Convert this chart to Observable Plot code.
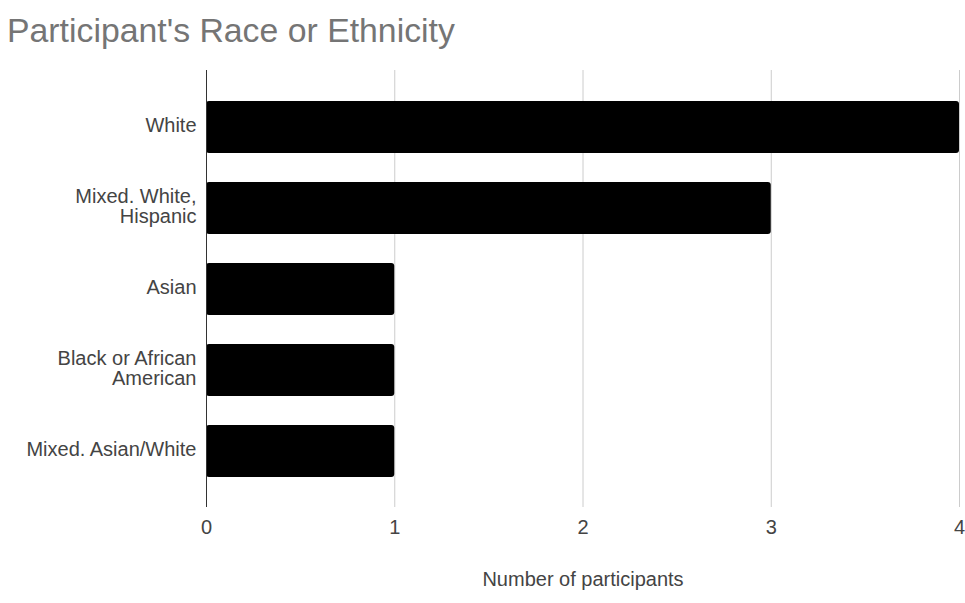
<!DOCTYPE html>
<html><head><meta charset="utf-8">
<script src="https://cdn.jsdelivr.net/npm/d3@7"></script>
<script src="https://cdn.jsdelivr.net/npm/@observablehq/plot@0.6"></script>
<style>
body{margin:0;background:#fff;font-family:"Liberation Sans",Arial,sans-serif;}
#title{height:60px;box-sizing:border-box;padding:14px 0 0 7px;font-size:33.8px;color:#757575;line-height:33px;white-space:nowrap;}
</style></head><body>
<div id="title">Participant's Race or Ethnicity</div>
<div id="chart"></div>
<script>
const categories = ["White", "Mixed. White,\nHispanic", "Asian", "Black or African\nAmerican", "Mixed. Asian/White"];
const counts = [4, 3, 1, 1, 1];
const xTicks = [0, 1, 2, 3, 4];
const xLabel = "Number of participants";

const data = categories.map((c, i) => ({category: c, count: counts[i]}));

const chart = Plot.plot({
  width: 965,
  height: 543,
  marginLeft: 206,
  marginRight: 6,
  marginTop: 10,
  marginBottom: 96,
  style: {fontFamily: "'Liberation Sans', Arial, sans-serif", fontSize: "20px", color: "#444", background: "#fff"},
  x: {domain: [0, 4]},
  y: {domain: categories, paddingInner: 0.364, paddingOuter: 0.355},
  marks: [
    Plot.gridX(xTicks, {stroke: "#ccc", strokeOpacity: 1, strokeWidth: 1}),
    Plot.barX(data, {x: "count", y: "category", fill: "#000", rx: 3}),
    Plot.ruleX([0], {stroke: "#333", strokeWidth: 1}),
    Plot.axisX({ticks: xTicks, tickSize: 0, tickPadding: 12, tickFormat: d => String(d), label: xLabel, labelAnchor: "center", labelArrow: "none", labelOffset: 78, fontSize: 20, fill: "#444"}),
    Plot.axisY({tickSize: 0, tickPadding: 10, label: null, lineHeight: 1, dy: -2, fontSize: 20, fill: "#444"})
  ]
});
document.getElementById("chart").appendChild(chart);
</script>
</body></html>
